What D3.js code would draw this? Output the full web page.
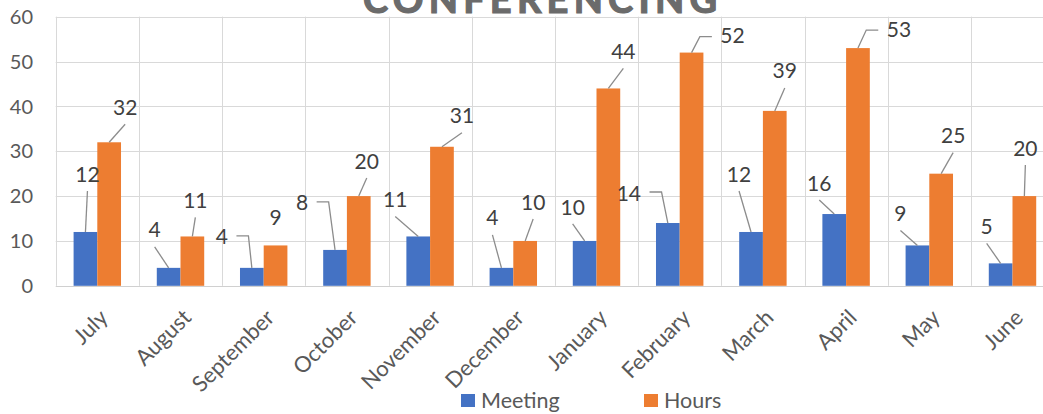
<!DOCTYPE html>
<html>
<head>
<meta charset="utf-8">
<script src="https://cdn.jsdelivr.net/npm/d3@7"></script>
<style>
  body { margin: 0; background: #fff; }
  svg { display: block; font-family: Lato, "Noto Sans", sans-serif; }
</style>
</head>
<body>
<div id="chart"></div>
<script>
// data
const months = ["July","August","September","October","November","December","January","February","March","April","May","June"];
const meeting = [12, 4, 4, 8, 11, 4, 10, 14, 12, 16, 9, 5];
const hours = [32, 11, 9, 20, 31, 10, 44, 52, 39, 53, 25, 20];
const yTicks = [0, 10, 20, 30, 40, 50, 60];

// where each data label was dragged to (px, from the bar top centre)
const meetingLabelNudge = [[2,-58],[-14,-38],[-30,-31],[-33,-47],[-23,-37],[-9,-50],[-12,-34],[-39,-30],[-12,-58],[-15,-31],[-17,-32],[-14,-37]];
const hoursLabelNudge = [[16,-35],[3,-36],[0,-28],[8,-35],[20,-31],[8,-39],[15,-37],[41,-17],[10,-40],[41,-19],[12,-38],[1,-48]];

const W = 1043, H = 414;
const blue = "#4472C4", orange = "#ED7D31";

const svg = d3.select("#chart").append("svg")
    .attr("width", W)
    .attr("height", H);

const x = d3.scaleBand().domain(months).range([55.7, 55.7 + 12*83.2]).padding(0);
const y = d3.scaleLinear().domain([0, 60]).range([285.8, 16.7]);
const barW = x.bandwidth() * 0.285;
const sub = d3.scaleOrdinal().domain(["Meeting","Hours"]).range([-barW, 0]);

// gridlines
let grid = svg.append("g").attr("stroke", "#d9d9d9").attr("stroke-width", 1);
grid.selectAll("line.h").data(yTicks.filter(d => d > 0)).enter().append("line")
    .attr("class", "h")
    .attr("x1", x.range()[0]).attr("x2", x.range()[1])
    .attr("y1", d => Math.round(y(d)) + 0.5).attr("y2", d => Math.round(y(d)) + 0.5);
grid.selectAll("line.v").data(months).enter().append("line")
    .attr("class", "v")
    .attr("x1", d => Math.round(x(d)) + 0.5).attr("x2", d => Math.round(x(d)) + 0.5)
    .attr("y1", y(60)).attr("y2", y(0));
grid.append("line")
    .attr("x1", x.range()[0]).attr("x2", x.range()[1])
    .attr("y1", Math.round(y(0)) + 0.5).attr("y2", Math.round(y(0)) + 0.5)
    .attr("stroke", "#d0d0d0");

// y tick labels
svg.append("g").selectAll("text").data(yTicks).enter().append("text")
    .attr("x", 33)
    .attr("y", d => y(d))
    .attr("dy", "0.36em")
    .attr("text-anchor", "end")
    .style("font-size", "20px")
    .attr("fill", "#595959")
    .text(d => d);

// bars
const series = [
  {name: "Meeting", values: meeting, color: blue, nudge: meetingLabelNudge},
  {name: "Hours", values: hours, color: orange, nudge: hoursLabelNudge}
];

series.forEach(s => {
  svg.append("g").selectAll("rect").data(s.values).enter().append("rect")
      .attr("x", (d, i) => x(months[i]) + x.bandwidth()/2 + sub(s.name))
      .attr("y", d => y(d))
      .attr("width", barW)
      .attr("height", d => y(0) - y(d))
      .attr("fill", s.color);
});

// data labels with leader lines
let labels = svg.append("g");
series.forEach(s => {
  s.values.forEach((v, i) => {
    let bx = x(months[i]) + x.bandwidth()/2 + sub(s.name) + barW/2;
    let by = y(v);
    let cx = bx + s.nudge[i][0], cy = by + s.nudge[i][1];
    let t = labels.append("text")
        .attr("x", cx).attr("y", cy)
        .attr("dy", "0.36em")
        .attr("text-anchor", "middle")
        .style("font-size", "21px")
        .attr("fill", "#404040")
        .text(v);
    let w = t.node().getComputedTextLength();
    let barLeft = bx - barW/2, barRight = bx + barW/2;
    let pts = null;
    if (cx + w/2 < barLeft - 5) {
      // label sits to the left: elbow
      let sx = cx + w/2 + 8.5;
      pts = [[sx, cy - 1], [sx + 12, cy - 1], [bx, by]];
    } else if (cx - w/2 > barRight + 5) {
      let sx = cx - w/2 - 8.5;
      pts = [[sx, cy + 1], [sx - 12, cy + 1], [bx, by]];
    } else {
      let sy = cy + 17;
      if (Math.hypot(bx - cx, by - sy) > 15) pts = [[cx, sy], [bx, by]];
    }
    if (pts) {
      labels.append("path")
          .attr("d", d3.line()(pts))
          .attr("fill", "none")
          .attr("stroke", "#8c8c8c")
          .attr("stroke-width", 1.3);
    }
  });
});

// month labels
svg.append("g").selectAll("text").data(months).enter().append("text")
    .attr("transform", d => "translate(" + (x(d) + x.bandwidth()/2 + 12) + ",319) rotate(-45)")
    .attr("text-anchor", "end")
    .style("font-size", "22px")
    .attr("fill", "#595959")
    .text(d => d);

// title, cut by the top edge as in the original
svg.append("text")
    .attr("x", 363)
    .attr("y", 13)
    .attr("textLength", 354)
    .attr("lengthAdjust", "spacing")
    .style("font-size", "38px")
    .style("font-weight", "bold")
    .attr("fill", "#6b6b6b")
    .attr("stroke", "#6b6b6b")
    .attr("stroke-width", 1.2)
    .text("CONFERENCING");

// legend
let legend = svg.append("g");
let legendX = [461, 644];
series.forEach((s, i) => {
  legend.append("rect")
      .attr("x", legendX[i]).attr("y", 394)
      .attr("width", 14).attr("height", 13)
      .attr("fill", s.color);
  legend.append("text")
      .attr("x", legendX[i] + 20).attr("y", 408)
      .style("font-size", "21.5px")
      .attr("fill", "#595959")
      .text(s.name);
});
</script>
</body>
</html>
